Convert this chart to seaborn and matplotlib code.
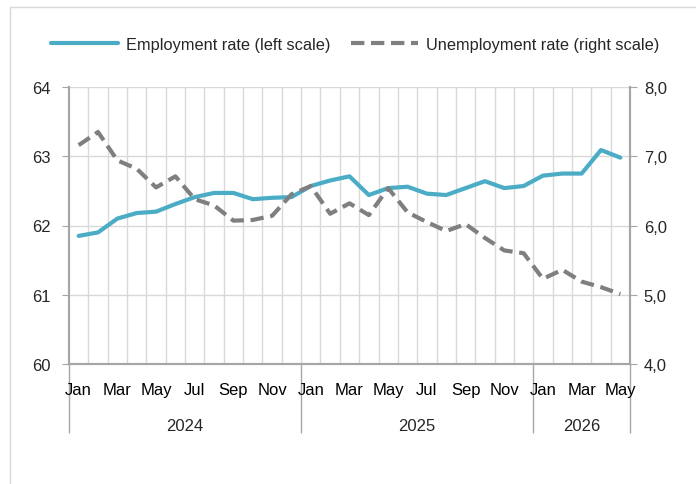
import numpy as np
import pandas as pd
import seaborn as sns
import matplotlib.pyplot as plt
from matplotlib.patches import Rectangle

# monthly data, Jan 2024 - May 2026
dates = pd.date_range('2024-01-01', periods=29, freq='MS')
month_names = [d.strftime('%b') for d in dates]
year_names = ['2024', '2025', '2026']

employment = [61.85, 61.90, 62.10, 62.18, 62.20, 62.31, 62.41, 62.47, 62.47, 62.38,
              62.40, 62.41, 62.57, 62.65, 62.71, 62.44, 62.54, 62.56, 62.46, 62.44,
              62.54, 62.64, 62.54, 62.57, 62.72, 62.75, 62.75, 63.09, 62.98]
unemployment = [7.16, 7.35, 6.94, 6.82, 6.55, 6.71, 6.38, 6.29, 6.07, 6.08,
                6.14, 6.45, 6.57, 6.17, 6.32, 6.15, 6.54, 6.19, 6.05, 5.92,
                6.02, 5.82, 5.64, 5.60, 5.23, 5.36, 5.19, 5.11, 5.01]

sns.set_style('white')
plt.rcParams['font.family'] = ['Liberation Sans Narrow', 'Liberation Sans', 'DejaVu Sans']
plt.rcParams['font.size'] = 12

blue = '#4bacc6'
grey = '#7f7f7f'
axis_col = '#a6a6a6'
grid_col = '#d9d9d9'

df = pd.DataFrame({'idx': np.arange(len(dates)), 'emp': employment, 'unemp': unemployment})

fig = plt.figure(figsize=(6.96, 4.85), dpi=100)
ax = fig.add_axes([69 / 696, 1 - 365 / 485, (630 - 69) / 696, (365 - 88) / 485])
ax2 = ax.twinx()

sns.lineplot(data=df, x='idx', y='emp', ax=ax, color=blue, linewidth=3,
             label='Employment rate (left scale)', legend=False)
sns.lineplot(data=df, x='idx', y='unemp', ax=ax2, color=grey, linewidth=3,
             linestyle=(0, (3.2, 1.6)), label='Unemployment rate (right scale)', legend=False)

n = len(dates)
ax.set_xlim(-0.5, n - 0.5)
ax.set_ylim(60, 64)
ax2.set_ylim(4, 8)
ax.set_yticks([60, 61, 62, 63, 64])
ax2.set_yticks([4, 5, 6, 7, 8])
ax2.set_yticklabels([f'{v:.1f}'.replace('.', ',') for v in [4, 5, 6, 7, 8]])
ax.set_xlabel('')
ax.set_ylabel('')
ax2.set_ylabel('')

# grid
ax.set_axisbelow(True)
ax.yaxis.grid(True, color=grid_col, linewidth=1)
for b in np.arange(0.5, n - 0.5, 1):
    ax.axvline(b, color=grid_col, linewidth=1, zorder=0)

# x axis: boundary ticks and month labels
ax.set_xticks(np.arange(-0.5, n, 1))
ax.set_xticklabels([])
ax.tick_params(axis='x', which='major', length=25, color=axis_col, width=1)
lab_pos = [i for i, m in enumerate(month_names) if (dates[i].month % 2) == 1]
ax.set_xticks(lab_pos, minor=True)
ax.set_xticklabels([month_names[i] for i in lab_pos], minor=True)
ax.tick_params(axis='x', which='minor', length=0, pad=13, labelsize=12, labelcolor='black')

# year separators and labels
jan_idx = [i for i, d in enumerate(dates) if d.month == 1]
bounds = [i - 0.5 for i in jan_idx] + [n - 0.5]
sec = ax.secondary_xaxis('bottom')
sec.set_xticks(bounds)
sec.set_xticklabels([])
sec.tick_params(length=50, color=axis_col, width=1)
sec.spines['bottom'].set_visible(False)
centers = [(bounds[k] + bounds[k + 1]) / 2 for k in range(len(year_names))]
sec2 = ax.secondary_xaxis('bottom')
sec2.set_xticks(centers)
sec2.set_xticklabels(year_names)
sec2.tick_params(length=0, pad=39, labelsize=12)
sec2.spines['bottom'].set_visible(False)

# y ticks
ax.tick_params(axis='y', length=5, color=axis_col, pad=8, labelsize=12)
ax2.tick_params(axis='y', length=5, color=axis_col, pad=5, labelsize=12)

for a in (ax, ax2):
    for s in ['left', 'right', 'bottom']:
        a.spines[s].set_color(axis_col)
        a.spines[s].set_linewidth(1.5)
    a.spines['top'].set_visible(False)

h1, l1 = ax.get_legend_handles_labels()
h2, l2 = ax2.get_legend_handles_labels()
ax2.legend(h1 + h2, l1 + l2, loc='center', bbox_to_anchor=(0.51, 1.155), ncol=2,
           frameon=False, handlelength=4.1, columnspacing=1.2, handletextpad=0.5, fontsize=11.8)

# outer light frame
fig.add_artist(Rectangle((10 / 696, -0.05), 1.1, 1 - 8 / 485 + 0.05, transform=fig.transFigure,
                         fill=False, edgecolor=grid_col, linewidth=1))

fig.savefig('out.png', dpi=100)
